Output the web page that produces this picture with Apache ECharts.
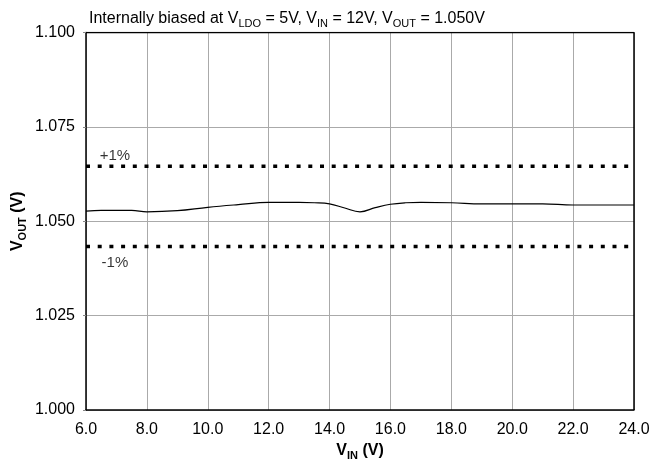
<!DOCTYPE html>
<html>
<head>
<meta charset="utf-8">
<script src="https://cdn.jsdelivr.net/npm/echarts@6/dist/echarts.min.js"></script>
<style>
  html, body { margin: 0; padding: 0; background: #fff; }
  #chart { width: 668px; height: 461px; }
</style>
</head>
<body>
<div id="chart"></div>
<script>
// Input voltage sweep (V) and measured output voltage (V)
var vin  = [6.0, 6.5, 7.0, 7.5, 8.0, 9.0, 10.0, 11.0, 12.0, 13.0, 13.5, 14.0, 14.5, 15.0, 15.5, 16.0, 16.5, 17.0, 18.0, 19.0, 20.0, 21.0, 22.0, 23.0, 24.0];
var vout = [1.0527, 1.0529, 1.0529, 1.0529, 1.0525, 1.0528, 1.0537, 1.0544, 1.0550, 1.0550, 1.0549, 1.0546, 1.0535, 1.0525, 1.0536, 1.0545, 1.0549, 1.0550, 1.0549, 1.0546, 1.0546, 1.0546, 1.0543, 1.0543, 1.0543];

// Regulation limits (±1%)
var limitUpper = 1.0646;
var limitLower = 1.0433;
var limitLabels = ['+1%', '-1%'];
var limitLabelX = 6.95;

// Axis ranges and ticks
var xMin = 6, xMax = 24, xStep = 2;
var yMin = 1.000, yMax = 1.100, yStep = 0.025;

var FONT = '"Liberation Sans", Arial, sans-serif';

var chart = echarts.init(document.getElementById('chart'));

var nameRich = {
  b: { fontFamily: FONT, fontSize: 16, fontWeight: 'bold', color: '#000' },
  bs: { fontFamily: FONT, fontSize: 11, fontWeight: 'bold', color: '#000', padding: [9, 0, 0, 0] }
};

chart.setOption({
  animation: false,
  backgroundColor: '#fff',
  title: {
    text: '{n|Internally biased at V}{s|LDO}{n| = 5V, V}{s|IN}{n| = 12V, V}{s|OUT}{n| = 1.050V}',
    left: 84,
    top: 4,
    textStyle: {
      fontWeight: 'normal',
      rich: {
        n: { fontFamily: FONT, fontSize: 16, fontWeight: 'normal', color: '#000' },
        s: { fontFamily: FONT, fontSize: 11, fontWeight: 'normal', color: '#000', padding: [9, 0, 0, 0] }
      }
    }
  },
  grid: { left: 86, right: 34, top: 32.5, bottom: 51, containLabel: false, outerBoundsMode: 'none' },
  xAxis: {
    type: 'value',
    min: xMin, max: xMax, interval: xStep,
    name: '{b|V}{bs|IN}{b| (V)}',
    nameLocation: 'middle',
    nameGap: 31,
    nameMoveOverlap: false,
    nameTextStyle: { rich: nameRich },
    axisLine: { show: true, lineStyle: { color: '#000', width: 1.5 } },
    axisTick: { show: false },
    axisLabel: {
      fontFamily: FONT, fontSize: 16, color: '#000', margin: 12,
      formatter: function (v) { return v.toFixed(1); }
    },
    splitLine: { show: true, lineStyle: { color: '#aaa', width: 1 } }
  },
  yAxis: {
    type: 'value',
    min: yMin, max: yMax, interval: yStep,
    name: '{b|V}{bs|OUT}{b| (V)}',
    nameLocation: 'middle',
    nameRotate: 90,
    nameGap: 58,
    nameMoveOverlap: false,
    nameTextStyle: { rich: nameRich },
    axisLine: { show: true, lineStyle: { color: '#000', width: 1.5 } },
    axisTick: { show: true, length: 3, inside: false, lineStyle: { color: '#888' } },
    axisLabel: {
      fontFamily: FONT, fontSize: 16, color: '#000', margin: 11,
      formatter: function (v) { return v.toFixed(3); }
    },
    splitLine: { show: true, lineStyle: { color: '#aaa', width: 1 } }
  },
  series: [
    {
      // frame on top and right
      type: 'line',
      data: [[xMin, yMax], [xMax, yMax], [xMax, yMin]],
      symbol: 'none',
      silent: true,
      lineStyle: { color: '#000', width: 1.5 },
      z: 1
    },
    {
      type: 'line',
      data: [[xMin, limitUpper], [xMax, limitUpper]],
      symbol: 'none',
      lineStyle: { color: '#000', width: 3.5, type: [4, 7.7] },
      z: 3
    },
    {
      type: 'line',
      data: [[xMin, limitLower], [xMax, limitLower]],
      symbol: 'none',
      lineStyle: { color: '#000', width: 3.5, type: [4, 7.7] },
      z: 3
    },
    {
      type: 'scatter',
      symbolSize: 0,
      data: [
        { value: [limitLabelX, limitUpper, limitLabels[0]], label: { position: 'top', distance: 3 } },
        { value: [limitLabelX, limitLower, limitLabels[1]], label: { position: 'bottom', distance: 9 } }
      ],
      label: {
        show: true,
        fontFamily: FONT, fontSize: 15, color: '#000',
        formatter: function (p) { return p.value[2]; }
      },
      z: 4
    },
    {
      type: 'line',
      data: vin.map(function (x, i) { return [x, vout[i]]; }),
      symbol: 'none',
      smooth: 0.4,
      lineStyle: { color: '#000', width: 1.2 },
      z: 5
    }
  ]
});
</script>
</body>
</html>
